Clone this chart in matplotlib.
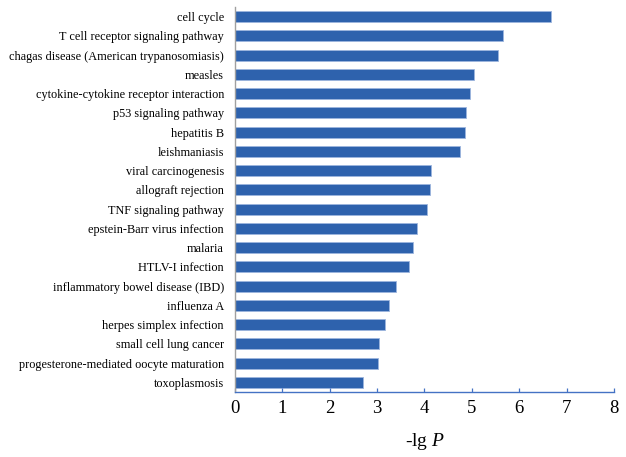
import matplotlib
matplotlib.use("Agg")
import matplotlib.pyplot as plt

pathways = [
    "cell cycle",
    "T cell receptor signaling pathway",
    "chagas disease (American trypanosomiasis)",
    "measles",
    "cytokine-cytokine receptor interaction",
    "p53 signaling pathway",
    "hepatitis B",
    "leishmaniasis",
    "viral carcinogenesis",
    "allograft rejection",
    "TNF signaling pathway",
    "epstein-Barr virus infection",
    "malaria",
    "HTLV-I infection",
    "inflammatory bowel disease (IBD)",
    "influenza A",
    "herpes simplex infection",
    "small cell lung cancer",
    "progesterone-mediated oocyte maturation",
    "toxoplasmosis",
]
neg_log_p = [6.68, 5.65, 5.56, 5.04, 4.97, 4.87, 4.85, 4.76, 4.13, 4.11,
             4.06, 3.84, 3.75, 3.68, 3.40, 3.25, 3.16, 3.04, 3.01, 2.71]
x_ticks = [0, 1, 2, 3, 4, 5, 6, 7, 8]

plt.rcParams["font.family"] = ["Liberation Serif", "DejaVu Serif"]
plt.rcParams["mathtext.fontset"] = "custom"
plt.rcParams["mathtext.rm"] = "Liberation Serif"
plt.rcParams["mathtext.it"] = "Liberation Serif:italic"

fig = plt.figure(figsize=(6.26, 4.57), dpi=100)
ax = fig.add_axes([0.3754, 0.1422, 0.6054, 0.8425])

y = list(range(len(pathways)))
ax.barh(y, neg_log_p, height=0.56, color="#2E62AD", edgecolor="#9DB5DE",
        linewidth=0.6)

ax.set_ylim(len(pathways) - 0.5, -0.5)
ax.set_xlim(0, 8)
ax.set_yticks(y)
ax.set_yticklabels(pathways, fontsize=8.8)
ax.set_xticks(x_ticks)
ax.set_xticklabels([str(t) for t in x_ticks], fontsize=13.5)

ax.tick_params(axis="y", length=0, pad=8)
ax.tick_params(axis="x", direction="in", length=3, width=0.9,
               color="#4472C4", pad=6)

for side in ("top", "right"):
    ax.spines[side].set_visible(False)
ax.spines["left"].set_color("#A0A0A0")
ax.spines["left"].set_linewidth(1.0)
ax.spines["bottom"].set_color("#4472C4")
ax.spines["bottom"].set_linewidth(1.0)

ax.set_xlabel("-lg $\\it{P}$", fontsize=14, labelpad=10)

fig.savefig("out.png", dpi=100)
